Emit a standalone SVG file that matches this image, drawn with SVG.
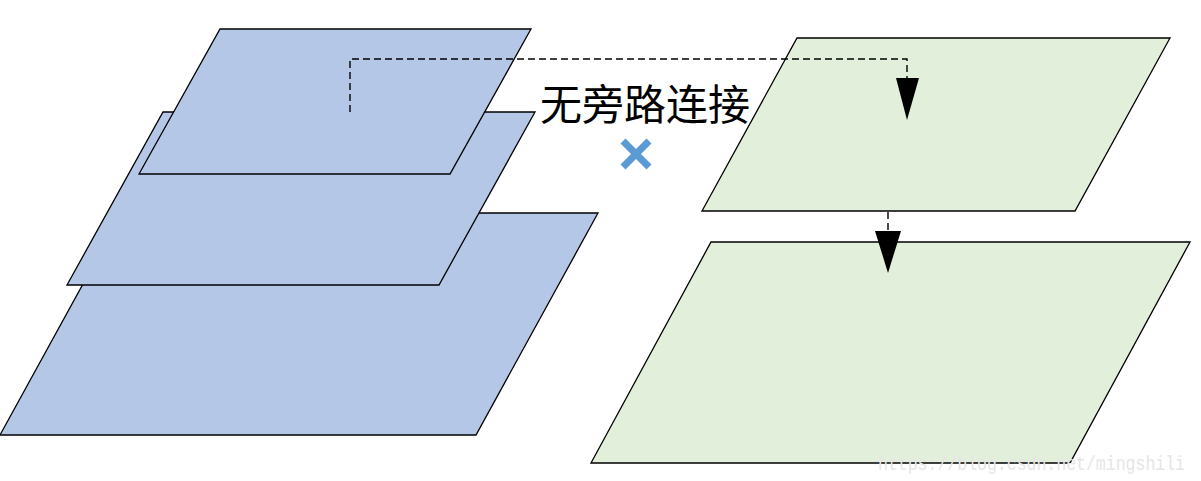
<svg xmlns="http://www.w3.org/2000/svg" width="1201" height="481" viewBox="0 0 1201 481">
<style>
.b{fill:#b4c7e7;stroke:#000;stroke-width:1.3}
.g{fill:#e2efda;stroke:#000;stroke-width:1.3}
.d{fill:none;stroke:#000;stroke-width:1.4;stroke-dasharray:7,4}
</style>
<rect width="1201" height="481" fill="#fff"/>
<g id="blue3"><polygon class="b" points="122,213 598,213 476,435 0,435"/></g>
<g id="blue2"><polygon class="b" points="163,112 535,112 439,285 67,285"/></g>
<g id="blue1"><polygon class="b" points="220,29 531,29 450,174 139,174"/></g>
<g id="green1"><polygon class="g" points="797,38 1170,38 1075,211 702,211"/></g>
<g id="green2"><polygon class="g" points="711,242 1190,242 1070,463 591,463"/></g>
<g id="connectors">
<polyline class="d" points="350,112 350,59 907,59 907,78"/>
<polygon points="896,78 919,78 907,120" fill="#000"/>
<line class="d" x1="888" y1="212" x2="888" y2="231"/>
<polygon points="875,231 901,231 888,273" fill="#000"/>
</g>
<text x="645" y="120" font-family="'Noto Sans CJK SC',sans-serif" font-size="42" text-anchor="middle">无旁路连接</text>
<g stroke="#5b9bd5" stroke-width="7"><line x1="623" y1="141" x2="649" y2="167"/><line x1="649" y1="141" x2="623" y2="167"/></g>
<text x="878" y="470" font-family="'Liberation Mono',monospace" font-size="20" textLength="307" lengthAdjust="spacingAndGlyphs" fill="#e6e6e6">https://blog.csdn.net/mingshili</text>
</svg>
